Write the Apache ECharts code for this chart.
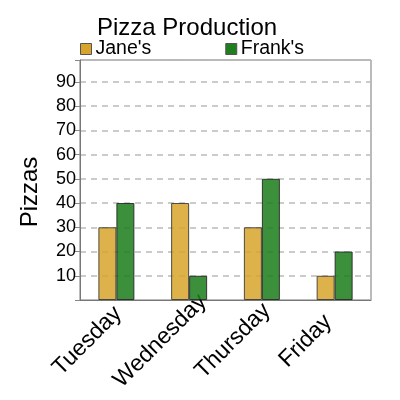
<!DOCTYPE html>
<html>
<head>
<meta charset="utf-8">
<script src="https://cdn.jsdelivr.net/npm/echarts@6/dist/echarts.min.js"></script>
<style>
html,body{margin:0;padding:0;background:#fff;}
#container{width:400px;height:400px;}
</style>
</head>
<body>
<div id="container"></div>
<script>
var days = ['Tuesday', 'Wednesday', 'Thursday', 'Friday'];
var janes = [30, 40, 30, 10];
var franks = [40, 10, 50, 20];

var myChart = echarts.init(document.getElementById('container'));
var option = {
    animation: false,
    title: {
        text: 'Pizza Production',
        left: 92,
        top: 11,
        textStyle: {color: '#000', fontSize: 24, fontWeight: 'normal', fontFamily: 'Liberation Sans'}
    },
    legend: {
        left: 80,
        top: 39,
        padding: 0,
        icon: 'rect',
        itemWidth: 11,
        itemHeight: 11,
        itemGap: 74,
        textStyle: {color: '#000', fontSize: 19.5, fontFamily: 'Liberation Sans', padding: [0, 0, 0, -1]},
        itemStyle: {opacity: 1, borderColor: '#555', borderWidth: 1}
    },
    grid: {
        left: 80, right: 29, top: 60, bottom: 100,
        show: true, borderColor: '#777', borderWidth: 1
    },
    xAxis: {
        type: 'category',
        data: days,
        axisLine: {lineStyle: {color: '#777'}},
        axisTick: {show: false},
        axisLabel: {
            rotate: 45, margin: 12, align: 'center', verticalAlign: 'middle',
            padding: [0, 82, 0, 0],
            color: '#000', fontSize: 23, fontFamily: 'Liberation Sans'
        }
    },
    yAxis: {
        type: 'value',
        min: 0, max: 99, interval: 10,
        name: 'Pizzas',
        nameLocation: 'middle',
        nameGap: 38,
        nameTextStyle: {color: '#000', fontSize: 24, fontFamily: 'Liberation Sans', padding: [0, 24, 0, 0]},
        axisLine: {show: true, lineStyle: {color: '#777'}},
        axisTick: {show: true, length: 5, lineStyle: {color: '#888'}},
        axisLabel: {
            margin: 4, color: '#000', fontSize: 18, fontFamily: 'Liberation Sans',
            formatter: function (v) { return (v > 0 && v % 10 === 0) ? v : ''; }
        },
        splitLine: {lineStyle: {color: '#bbb', type: [6, 5], width: 1.5}}
    },
    series: [
        {
            name: "Jane's", type: 'bar', data: janes,
            barWidth: 18, barGap: '0%',
            itemStyle: {color: '#d8a42c', opacity: 0.85, borderColor: '#333', borderWidth: 1}
        },
        {
            name: "Frank's", type: 'bar', data: franks,
            barWidth: 18,
            itemStyle: {color: '#1f7f1f', opacity: 0.87, borderColor: '#222', borderWidth: 1}
        }
    ]
};
myChart.setOption(option);
</script>
</body>
</html>
